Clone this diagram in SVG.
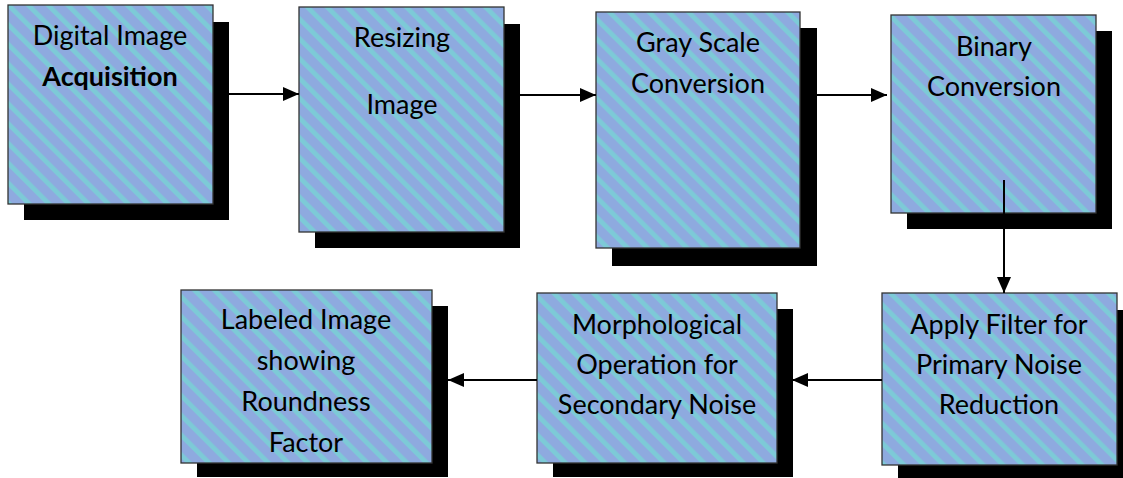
<svg xmlns="http://www.w3.org/2000/svg" width="1123" height="478" viewBox="0 0 1123 478">
<style>
.shadow{fill:#000}
.box{fill:url(#stripes);stroke:#333;stroke-width:1.3}
.t{font-family:Lato,"Open Sans","Liberation Sans",sans-serif;font-size:27px;fill:#000;text-anchor:middle}
.b{font-weight:bold}
.conn{stroke:#000;stroke-width:2;fill:none;marker-end:url(#arr)}
</style>
<defs>
<pattern id="stripes" patternUnits="userSpaceOnUse" width="14" height="14" patternTransform="rotate(-45)">
<rect width="14" height="14" fill="#8EAADF"/>
<rect width="4.8" height="14" fill="#7DCAD7"/>
</pattern>
<marker id="arr" viewBox="0 0 16 16" refX="16" refY="8" markerWidth="16" markerHeight="16" markerUnits="userSpaceOnUse" orient="auto">
<path d="M0,1 L16,8 L0,15 z" fill="#000"/>
</marker>
</defs>
<rect width="1123" height="478" fill="#fff"/>
<g id="n1">
<rect class="shadow" x="24" y="22" width="205" height="198"/>
<rect class="box" x="8" y="5" width="205" height="199"/>
<text class="t" x="110" y="45">Digital Image</text>
<text class="t b" x="110" y="86">Acquisition</text>
</g>
<g id="n2">
<rect class="shadow" x="315" y="24" width="205" height="224"/>
<rect class="box" x="299" y="7" width="205" height="225"/>
<text class="t" x="402" y="47">Resizing</text>
<text class="t" x="402" y="114">Image</text>
</g>
<g id="n3">
<rect class="shadow" x="612" y="28" width="205" height="238"/>
<rect class="box" x="596" y="12" width="204" height="236"/>
<text class="t" x="698" y="52">Gray Scale</text>
<text class="t" x="698" y="93">Conversion</text>
</g>
<g id="n4">
<rect class="shadow" x="907" y="31" width="205" height="198"/>
<rect class="box" x="891" y="15" width="205" height="198"/>
<text class="t" x="994" y="56">Binary</text>
<text class="t" x="994" y="96">Conversion</text>
</g>
<g id="n5">
<rect class="shadow" x="898" y="310" width="235" height="175"/>
<rect class="box" x="882" y="293" width="235" height="172"/>
<text class="t" x="999" y="334">Apply Filter for</text>
<text class="t" x="999" y="374">Primary Noise</text>
<text class="t" x="999" y="414">Reduction</text>
</g>
<g id="n6">
<rect class="shadow" x="553" y="309" width="240" height="168"/>
<rect class="box" x="537" y="293" width="240" height="170"/>
<text class="t" x="657" y="334">Morphological</text>
<text class="t" x="657" y="374">Operation for</text>
<text class="t" x="657" y="414">Secondary Noise</text>
</g>
<g id="n7">
<rect class="shadow" x="197" y="306" width="251" height="171"/>
<rect class="box" x="181" y="290" width="251" height="173"/>
<text class="t" x="306" y="329">Labeled Image</text>
<text class="t" x="306" y="370">showing</text>
<text class="t" x="306" y="411">Roundness</text>
<text class="t" x="306" y="452">Factor</text>
</g>
<g id="connectors">
<line class="conn" x1="229" y1="94" x2="299" y2="94"/>
<line class="conn" x1="520" y1="95" x2="596" y2="95"/>
<line class="conn" x1="817" y1="95" x2="887" y2="95"/>
<line class="conn" x1="1004" y1="180" x2="1004" y2="293"/>
<line class="conn" x1="882" y1="380" x2="792" y2="380"/>
<line class="conn" x1="537" y1="380" x2="448" y2="380"/>
</g>
</svg>
